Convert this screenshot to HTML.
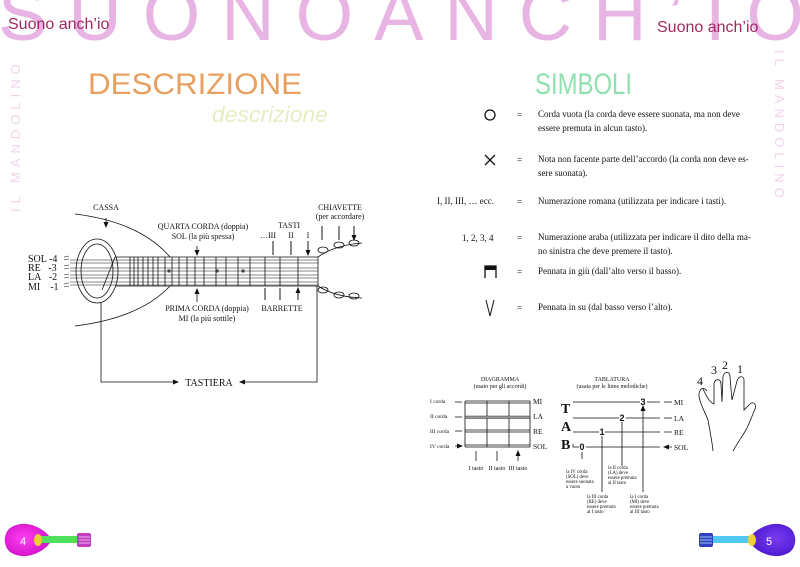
<!DOCTYPE html>
<html><head><meta charset="utf-8"><style>
html,body{margin:0;padding:0;background:#fff;}
svg{display:block;}
.s{font-family:"Liberation Serif",serif;fill:#111;}
</style></head><body>
<svg width="800" height="567" viewBox="0 0 800 567" xmlns="http://www.w3.org/2000/svg">
<defs>
<marker id="a" markerWidth="6" markerHeight="6" refX="5" refY="3" orient="auto" markerUnits="userSpaceOnUse"><path d="M0,0.5 L6,3 L0,5.5z" fill="#111"/></marker>
<radialGradient id="gp" cx="0.4" cy="0.45" r="0.6"><stop offset="0" stop-color="#ff40f0"/><stop offset="1" stop-color="#d010c8"/></radialGradient>
<radialGradient id="gv" cx="0.6" cy="0.45" r="0.6"><stop offset="0" stop-color="#7a3cf0"/><stop offset="1" stop-color="#4a18d0"/></radialGradient>
</defs>
<!-- header -->
<text x="-2" y="40" textLength="806" lengthAdjust="spacing" font-family="Liberation Sans,sans-serif" font-size="74" fill="#e8b4e4">SUONOANCH’IO</text>
<text x="8" y="29" font-family="Liberation Sans,sans-serif" font-size="16" fill="#a02860">Suono anch’io</text>
<text x="657" y="32" font-family="Liberation Sans,sans-serif" font-size="16" fill="#a02860">Suono anch’io</text>
<text transform="translate(20,212) rotate(-90)" font-family="Liberation Sans,sans-serif" font-size="13" fill="#f0d4ea" letter-spacing="5">IL MANDOLINO</text>
<text transform="translate(775,50) rotate(90)" font-family="Liberation Sans,sans-serif" font-size="13" fill="#f0d4ea" letter-spacing="5">IL MANDOLINO</text>
<!-- titles -->
<text x="88" y="94" textLength="214" lengthAdjust="spacingAndGlyphs" font-family="Liberation Sans,sans-serif" font-size="30" fill="#e8a060">DESCRIZIONE</text>
<text x="212" y="122" textLength="116" lengthAdjust="spacingAndGlyphs" font-family="Liberation Sans,sans-serif" font-style="italic" font-size="22" fill="#e4eec0">descrizione</text>
<text x="535" y="94" textLength="97" lengthAdjust="spacingAndGlyphs" font-family="Liberation Sans,sans-serif" font-size="30" fill="#90e0b0">SIMBOLI</text>
<!-- symbols -->
<g class="s" font-size="9">
<circle cx="490" cy="115" r="5" fill="none" stroke="#111" stroke-width="1.3"/>
<text x="517" y="118">=</text><text x="538" y="117">Corda vuota (la corda deve essere suonata, ma non deve</text><text x="538" y="131">essere premuta in alcun tasto).</text>
<path d="M485,155 L495,165 M495,155 L485,165" stroke="#111" stroke-width="1.3"/>
<text x="517" y="163">=</text><text x="538" y="162">Nota non facente parte dell’accordo (la corda non deve es-</text><text x="538" y="176">sere suonata).</text>
<text x="437" y="204">I, II, III, … ecc.</text><text x="517" y="205">=</text><text x="538" y="204">Numerazione romana (utilizzata per indicare i tasti).</text>
<text x="462" y="241">1, 2, 3, 4</text><text x="517" y="241">=</text><text x="538" y="240">Numerazione araba (utilizzata per indicare il dito della ma-</text><text x="538" y="254">no sinistra che deve premere il tasto).</text>
<path d="M485,278 V266 H496 V278" fill="none" stroke="#111" stroke-width="1.3"/><rect x="485" y="266" width="11" height="4" fill="#111"/>
<text x="517" y="275">=</text><text x="538" y="274">Pennata in giù (dall’alto verso il basso).</text>
<path d="M486,300 L490,316 L494,300" fill="none" stroke="#111" stroke-width="1"/>
<text x="517" y="311">=</text><text x="538" y="310">Pennata in su (dal basso verso l’alto).</text>
</g>
<!-- mandolin diagram -->
<g stroke="#111" fill="none" stroke-width="0.8">
<path d="M75,214 Q140,222 170,257"/>
<path d="M75,326 Q140,318 170,286"/>
<ellipse cx="97" cy="271" rx="21" ry="32"/>
<ellipse cx="97" cy="271" rx="16" ry="27"/>
<path d="M115,257 H318 V286 H115 M102,290 L115,257"/>
<path d="M70,260 H318 M70,263 H318 M70,268 H318 M70,271 H318 M70,275 H318 M70,278 H318 M70,282 H318 M70,285 H318" stroke-width="0.5"/>
<path d="M130,257V286 M134,257V286 M138,257V286 M143,257V286 M148,257V286 M153,257V286 M158,257V286 M165,257V286 M172,257V286 M179,257V286 M187,257V286 M195,257V286 M204,257V286 M216,257V286 M226,257V286 M238,257V286 M250,257V286 M265,257V286 M280,257V286 M298,257V286"/>
<rect x="168" y="270" width="2" height="2"/><rect x="216" y="270" width="2" height="2"/><rect x="242" y="270" width="2" height="2"/>
<path d="M318,257 Q335,245 362,243 M318,286 Q335,297 362,298"/>
<ellipse cx="323" cy="250" rx="5" ry="3"/><ellipse cx="339" cy="245" rx="5" ry="3"/><ellipse cx="354" cy="243" rx="5" ry="3"/>
<ellipse cx="323" cy="290" rx="5" ry="3"/><ellipse cx="339" cy="295" rx="5" ry="3"/><ellipse cx="354" cy="296" rx="5" ry="3"/>
<path d="M101,303 V382 H178" marker-end="url(#a)"/>
<path d="M317,286 V382 H240" marker-end="url(#a)"/>
<path d="M106,218 V227" marker-end="url(#a)"/>
<path d="M197,246 V255" marker-end="url(#a)"/>
<path d="M197,302 V289" marker-end="url(#a)"/>
<path d="M273,241 V255 M291,241 V255 M308,241 V255" marker-end="url(#a)"/>
<path d="M265,300 V288 M280,300 V288 M298,300 V288" marker-end="url(#a)"/>
<path d="M322,226 V240 M339,226 V240 M354,226 V240" marker-end="url(#a)"/>
</g>
<path d="M273,241 V255 M291,241 V255 M308,241 V255 M265,300 V288 M280,300 V288 M298,300 V288 M322,226 V240 M339,226 V240 M354,226 V240" stroke="#111" stroke-width="0.8"/>
<g stroke="#111" stroke-width="0.5"><path d="M64,257 l5,-1 M64,260 l5,-1 M64,266 l5,-1 M64,269 l5,-1 M64,275 l5,-1 M64,278 l5,-1 M64,284 l5,-1 M64,287 l5,-1"/></g>
<g class="s" font-size="8" text-anchor="middle">
<text x="106" y="210">CASSA</text>
<text x="203" y="229">QUARTA CORDA (doppia)</text><text x="203" y="239">SOL (la più spessa)</text>
<text x="207" y="311">PRIMA CORDA (doppia)</text><text x="207" y="321">MI (la più sottile)</text>
<text x="289" y="228">TASTI</text><text x="268" y="238">…III</text><text x="291" y="238">II</text><text x="308" y="238">I</text>
<text x="282" y="311">BARRETTE</text>
<text x="340" y="210">CHIAVETTE</text><text x="340" y="219">(per accordare)</text>
<text x="209" y="386" font-size="10">TASTIERA</text>
</g>
<g class="s" font-size="10">
<text x="28" y="262">SOL -4</text><text x="28" y="271">RE&#160;&#160;&#160;-3</text><text x="28" y="280">LA&#160;&#160;&#160;-2</text><text x="28" y="290">MI&#160;&#160;&#160;&#160;-1</text>
</g>
<!-- diagramma -->
<g class="s" font-size="6" text-anchor="middle">
<text x="500" y="381">DIAGRAMMA</text><text x="500" y="388">(usato per gli accordi)</text>
<text x="612" y="381">TABLATURA</text><text x="612" y="388">(usata per le linee melodiche)</text>
<text x="476" y="470">I tasto</text><text x="497" y="470">II tasto</text><text x="518" y="470">III tasto</text>
</g>
<g class="s" font-size="5.5">
<text x="430" y="403">I corda</text><text x="430" y="418">II corda</text><text x="430" y="433">III corda</text><text x="430" y="448">IV corda</text>
</g>
<g class="s" font-size="7.5"><text x="533" y="404">MI</text><text x="533" y="419">LA</text><text x="533" y="434">RE</text><text x="533" y="449">SOL</text>
<text x="674" y="405">MI</text><text x="674" y="421">LA</text><text x="674" y="435">RE</text><text x="674" y="450">SOL</text></g>
<g stroke="#111" stroke-width="0.8" fill="none">
<path d="M465,401 H530 M465,403 H530 M465,430 H530 M465,432 H530 M465,445 H530 M465,447 H530 M465,401 V447 M487,401 V447 M509,401 V447 M530,401 V447"/>
<rect x="465" y="416" width="65" height="2.5" fill="#999" stroke="#111" stroke-width="0.4"/>
<path d="M455,402 H462 M455,417 H462 M455,431 H462 M455,446 H462" marker-end="url(#a)"/>
<path d="M476,461 V451 M497,461 V451 M518,461 V451" marker-end="url(#a)"/>
<path d="M573,402 H640 M647,402 H660 M573,418 H619 M626,418 H660 M573,432 H599 M605,432 H660 M573,444 V447 H579 M586,447 H660"/>
<path d="M672,402 H664 M672,418 H664 M672,432 H664 M672,447 H664" marker-end="url(#a)"/>
<path d="M582,459 V452 M602,492 V436 M622,466 V422 M643,492 V406" marker-end="url(#a)"/>
<path d="M700,391 C696,396 704,410 708,420 C710,432 712,440 713,451 M703,389 C706,395 709,402 714,404 L714,383 C716,378 721,379 721,384 L722,402 L723,376 C725,371 730,371 730,377 L732,400 L737,381 C739,375 744,376 744,380 L744,410 L750,404 C753,401 757,404 755,409 C752,416 750,422 746,430 C741,438 737,444 733,451 M700,391 C701,387 705,388 707,391"/>
</g>
<g font-family="Liberation Sans,sans-serif" font-weight="bold" font-size="9" fill="#111" text-anchor="middle">
<text x="643" y="405">3</text><text x="622" y="421">2</text><text x="602" y="435">1</text><text x="582" y="450">0</text>
</g>
<g class="s" font-weight="bold" font-size="14"><text x="561" y="413">T</text><text x="561" y="431">A</text><text x="561" y="449">B</text></g>
<g class="s" font-size="12"><text x="697" y="385">4</text><text x="711" y="374">3</text><text x="722" y="369">2</text><text x="737" y="373">1</text></g>
<g class="s" font-size="4.8">
<text x="566" y="473">la IV corda</text><text x="566" y="478">(SOL) deve</text><text x="566" y="483">essere suonata</text><text x="566" y="488">a vuoto</text>
<text x="587" y="498">la III corda</text><text x="587" y="503">(RE) deve</text><text x="587" y="508">essere premuta</text><text x="587" y="513">al I tasto</text>
<text x="608" y="469">la II corda</text><text x="608" y="474">(LA) deve</text><text x="608" y="479">essere premuta</text><text x="608" y="484">al II tasto</text>
<text x="630" y="498">la I corda</text><text x="630" y="503">(MI) deve</text><text x="630" y="508">essere premuta</text><text x="630" y="513">al III tasto</text>
</g>
<!-- page icons -->
<g>
<path d="M10,528 C25,518 45,528 52,540 C45,552 25,562 10,552 C3,546 3,534 10,528z" fill="url(#gp)"/>
<text x="20" y="545" font-family="Liberation Sans,sans-serif" font-size="11" fill="#fff">4</text>
<rect x="40" y="536" width="38" height="7" fill="#50e060"/>
<ellipse cx="38" cy="540" rx="4" ry="6" fill="#f0d030"/>
<rect x="77" y="533" width="14" height="14" fill="#c040c0" rx="2"/>
<path d="M79,537 H90 M79,540 H90 M79,543 H90" stroke="#f0b0f0" stroke-width="1"/>
<path d="M790,528 C775,518 755,528 748,540 C755,552 775,562 790,552 C797,546 797,534 790,528z" fill="url(#gv)"/>
<text x="766" y="545" font-family="Liberation Sans,sans-serif" font-size="11" fill="#fff">5</text>
<rect x="712" y="536" width="40" height="7" fill="#50c8f0"/>
<ellipse cx="752" cy="540" rx="4" ry="6" fill="#f0d030"/>
<rect x="699" y="533" width="14" height="14" fill="#3040c0" rx="2"/>
<path d="M700,537 H712 M700,540 H712 M700,543 H712" stroke="#a0c0ff" stroke-width="1"/>
</g>
</svg>
</body></html>
